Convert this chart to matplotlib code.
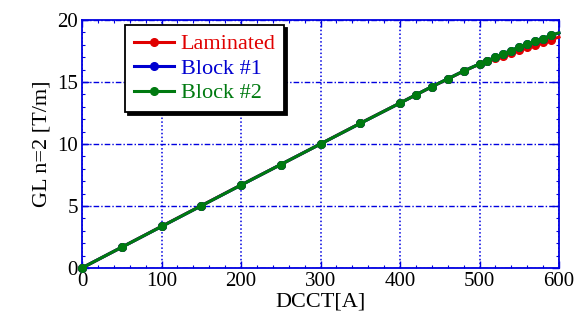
import numpy as np
import matplotlib.pyplot as plt
from matplotlib.ticker import MultipleLocator

plt.rcParams['font.family'] = ['Liberation Serif', 'DejaVu Serif']
plt.rcParams['mathtext.fontset'] = 'stix'

# DCCT current [A]
dcct = [0, 50, 100, 150, 200, 250, 300, 350, 400, 420, 440, 460, 480,
        500, 510, 520, 530, 540, 550, 560, 570, 580, 590, 600]

# integrated gradient GL for n=2 [T/m]
gl_laminated = [0.0, 1.67, 3.35, 5.02, 6.69, 8.34, 10.0, 11.67, 13.3, 13.96,
                14.61, 15.24, 15.87, 16.44, 16.68, 16.9, 17.12, 17.35, 17.57,
                17.8, 18.0, 18.2, 18.42, 18.62]
gl_block1 = [0.0, 1.67, 3.34, 5.01, 6.68, 8.34, 10.0, 11.66, 13.3, 13.96,
             14.62, 15.25, 15.88, 16.45, 16.72, 16.99, 17.28, 17.53, 17.83,
             18.05, 18.3, 18.5, 18.76, 18.95]
gl_block2 = [0.0, 1.67, 3.34, 5.01, 6.68, 8.34, 10.0, 11.66, 13.3, 13.96,
             14.62, 15.25, 15.88, 16.45, 16.72, 16.99, 17.28, 17.53, 17.85,
             18.06, 18.31, 18.5, 18.77, 18.96]

fig = plt.figure(figsize=(5.86, 3.22), dpi=100)
ax = fig.add_axes([0.14, 0.168, 0.814, 0.77])

# last sample sits on the frame edge, so no marker there
marks = slice(0, len(dcct) - 1)
for gl, col, name in [(gl_laminated, '#e00000', 'Laminated'),
                      (gl_block1, '#0000d0', 'Block #1'),
                      (gl_block2, '#007a10', 'Block #2')]:
    ax.plot(dcct, gl, '-o', color=col, lw=2.2, ms=5.5, markevery=marks,
            clip_on=False, zorder=3, label=name)

ax.set_xlim(0, 600)
ax.set_ylim(0, 20)
ax.xaxis.set_major_locator(MultipleLocator(100))
ax.xaxis.set_minor_locator(MultipleLocator(20))
ax.yaxis.set_major_locator(MultipleLocator(5))
ax.yaxis.set_minor_locator(MultipleLocator(1))

# blue frame and grid
for sp in ax.spines.values():
    sp.set_color('#0000e0')
    sp.set_linewidth(1.3)
ax.tick_params(which='both', direction='in', top=True, right=True,
               color='#0000e0', labelsize=15, labelcolor='black')
ax.tick_params(which='major', length=5, width=1, pad=3)
ax.tick_params(which='minor', length=2.5, width=0.8)
ax.xaxis.grid(True, color='#0000e0', linestyle=(0, (1, 1.5)), lw=1.1)
ax.yaxis.grid(True, color='#0000e0', linestyle=(0, (4, 1.5, 1, 1.5)), lw=1)
ax.set_axisbelow(True)

ax.set_xlabel('DCCT[A]', fontsize=16, labelpad=1)
ax.set_ylabel('GL n=2 [T/m]', fontsize=16, labelpad=4)

leg = ax.legend(loc='upper left', bbox_to_anchor=(0.09, 0.98), fontsize=16,
                labelcolor='linecolor', fancybox=False,
                shadow={'color': 'black', 'alpha': 1},
                handlelength=1.8, handletextpad=0.3, borderpad=0.4,
                labelspacing=0.18, borderaxespad=0, framealpha=1)
leg.get_frame().set_edgecolor('black')
leg.get_frame().set_linewidth(1.3)
leg.set_zorder(5)

fig.savefig('out.png', dpi=100)
